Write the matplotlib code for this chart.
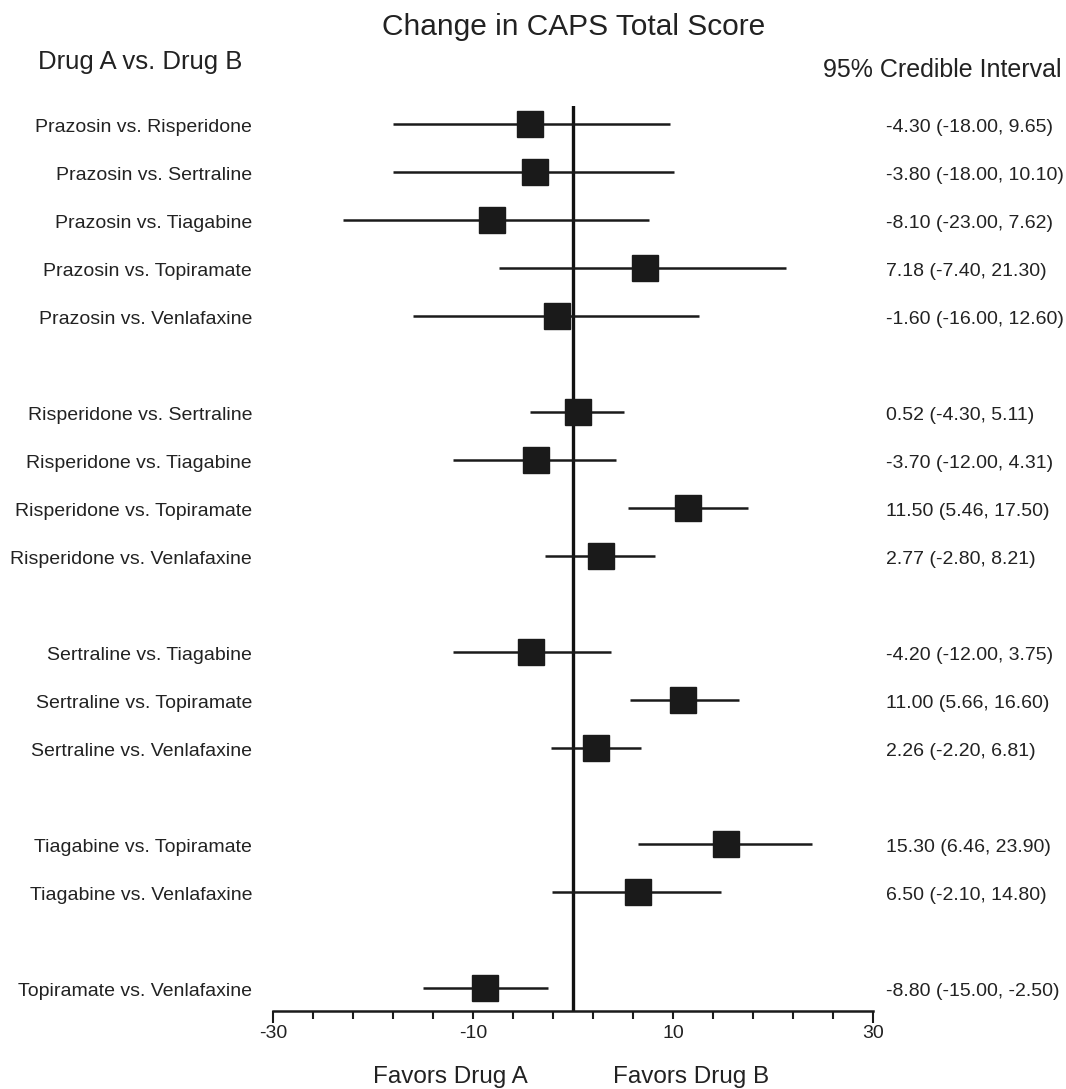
import numpy as np
import matplotlib.pyplot as plt

# comparisons, posterior median and 95% credible interval
comparisons = [
    "Prazosin vs. Risperidone", "Prazosin vs. Sertraline", "Prazosin vs. Tiagabine",
    "Prazosin vs. Topiramate", "Prazosin vs. Venlafaxine",
    "Risperidone vs. Sertraline", "Risperidone vs. Tiagabine",
    "Risperidone vs. Topiramate", "Risperidone vs. Venlafaxine",
    "Sertraline vs. Tiagabine", "Sertraline vs. Topiramate", "Sertraline vs. Venlafaxine",
    "Tiagabine vs. Topiramate", "Tiagabine vs. Venlafaxine",
    "Topiramate vs. Venlafaxine",
]
estimate = [-4.30, -3.80, -8.10, 7.18, -1.60,
            0.52, -3.70, 11.50, 2.77,
            -4.20, 11.00, 2.26,
            15.30, 6.50,
            -8.80]
lower = [-18.00, -18.00, -23.00, -7.40, -16.00,
         -4.30, -12.00, 5.46, -2.80,
         -12.00, 5.66, -2.20,
         6.46, -2.10,
         -15.00]
upper = [9.65, 10.10, 7.62, 21.30, 12.60,
         5.11, 4.31, 17.50, 8.21,
         3.75, 16.60, 6.81,
         23.90, 14.80,
         -2.50]
group_sizes = [5, 4, 3, 2, 1]

# row positions, one empty row between groups
rows = []
r = 0
for g in group_sizes:
    rows += list(range(r, r + g))
    r += g + 1
rows = np.array(rows)

plt.rcParams['font.family'] = ['Liberation Sans', 'DejaVu Sans']
plt.rcParams['axes.unicode_minus'] = False
txt = '#222222'
W, H = 1066, 1089

fig = plt.figure(figsize=(W / 100, H / 100), dpi=100)
ax = fig.add_axes([273 / W, 78 / H, 600 / W, (983 - 78) / H])

ax.axvline(0, color='#111111', lw=2.4, zorder=1)
est = np.array(estimate)
ax.hlines(rows, lower, upper, color='#1a1a1a', lw=1.8, zorder=2)
ax.plot(est, rows, 's', color='#1a1a1a', markersize=18.7, zorder=3)

ax.set_xlim(-30, 30)
ax.set_ylim(18.48, -0.375)
for s in ['top', 'left', 'right']:
    ax.spines[s].set_visible(False)
ax.spines['bottom'].set_linewidth(1.8)
ax.spines['bottom'].set_color('#1a1a1a')
ax.set_yticks([])
ax.set_xticks([-30, -10, 10, 30])
ax.set_xticks(np.arange(-30, 31, 4), minor=True)
ax.tick_params(axis='x', which='both', direction='out', length=5.8, width=1.5,
               color='#1a1a1a', pad=4, labelsize=14, labelcolor=txt)
xt = ax.xaxis.get_major_ticks()
xt[0].tick1line.set_markersize(8.6)
xt[-1].tick1line.set_markersize(8.6)

for i in range(len(comparisons)):
    ax.text(-32.1, rows[i] + 0.17, comparisons[i], ha='right', va='baseline',
            fontsize=14, color=txt, clip_on=False)
    ax.text(31.3, rows[i] + 0.17,
            "{:.2f} ({:.2f}, {:.2f})".format(estimate[i], lower[i], upper[i]),
            ha='left', va='baseline', fontsize=14, color=txt, clip_on=False)

fig.text(574 / W, 1 - 35 / H, "Change in CAPS Total Score", ha='center',
         va='baseline', fontsize=21.5, color=txt)
fig.text(38 / W, 1 - 69 / H, "Drug A vs. Drug B", ha='left', va='baseline',
         fontsize=18.5, color=txt)
fig.text(823 / W, 1 - 77 / H, "95% Credible Interval", ha='left', va='baseline',
         fontsize=18, color=txt)
fig.text(528 / W, 1 - 1083 / H, "Favors Drug A", ha='right', va='baseline',
         fontsize=17.5, color=txt)
fig.text(613 / W, 1 - 1083 / H, "Favors Drug B", ha='left', va='baseline',
         fontsize=17.5, color=txt)

fig.savefig('out.png', dpi=100, facecolor='white')
